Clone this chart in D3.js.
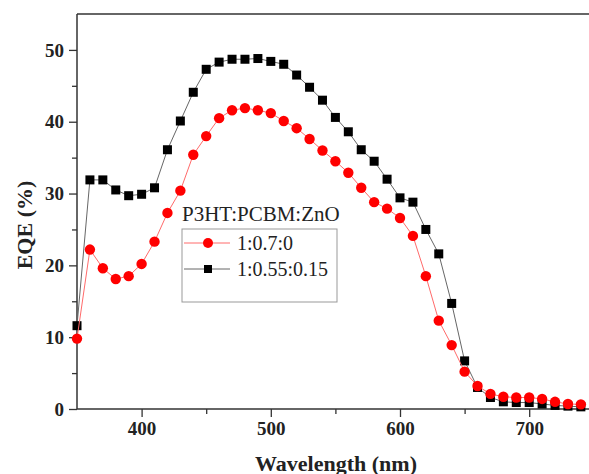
<!DOCTYPE html>
<html>
<head>
<meta charset="utf-8">
<script src="https://cdn.jsdelivr.net/npm/d3@7"></script>
<style>
  body { margin: 0; background: #fff; }
  svg { display: block; }
  .tick text { font-family: "Liberation Serif", "Times New Roman", serif; font-weight: bold; font-size: 19px; fill: #222; }
</style>
</head>
<body>
<svg id="chart" width="589" height="474"></svg>
<script>
var wavelength = [350, 360, 370, 380, 390, 400, 410, 420, 430, 440, 450, 460, 470, 480, 490,
    500, 510, 520, 530, 540, 550, 560, 570, 580, 590, 600, 610, 620, 630, 640,
    650, 660, 670, 680, 690, 700, 710, 720, 730, 740]

// 1:0.7:0 (red circles)
var eqe_ref = [9.8, 22.2, 19.6, 18.1, 18.5, 20.2, 23.3, 27.3, 30.4, 35.4, 38.0, 40.5, 41.6, 41.9, 41.6,
    41.2, 40.1, 39.1, 37.6, 36.0, 34.5, 32.9, 30.8, 28.8, 27.9, 26.6, 24.1, 18.5, 12.3, 8.9,
    5.2, 3.2, 2.1, 1.7, 1.6, 1.6, 1.4, 1.0, 0.7, 0.65]

// 1:0.55:0.15 (black squares)
var eqe_zno = [11.6, 31.9, 31.9, 30.5, 29.7, 29.9, 30.8, 36.1, 40.1, 44.1, 47.3, 48.3, 48.7, 48.7, 48.8,
    48.4, 48.0, 46.5, 44.8, 43.0, 40.6, 38.6, 36.1, 34.5, 32.0, 29.4, 28.8, 25.0, 21.6, 14.7,
    6.7, 3.0, 1.6, 1.0, 0.9, 0.9, 0.7, 0.5, 0.4, 0.3]

var xTicks = [400, 500, 600, 700]
var yTicks = [0, 10, 20, 30, 40, 50]
var legendTitle = "P3HT:PCBM:ZnO"
var seriesNames = ["1:0.7:0", "1:0.55:0.15"]

var svg = d3.select("#chart")
var mLeft = 77, mTop = 14, mBottom = 409

var x = d3.scaleLinear().domain([350, 750]).range([mLeft, mLeft + 400 * 1.292])
var y = d3.scaleLinear().domain([0, 55]).range([mBottom, mTop])

var serif = '"Liberation Serif", "Times New Roman", serif'
var axisColor = "#333"

// frame: top line
svg.append("line")
    .attr("x1", mLeft).attr("x2", 589)
    .attr("y1", mTop).attr("y2", mTop)
    .attr("stroke", axisColor).attr("stroke-width", 1.5)

// minor ticks
svg.append("g")
    .attr("transform", "translate(0," + mBottom + ")")
    .call(d3.axisBottom(x).tickValues([450, 550, 650, 750]).tickSize(5).tickFormat(""))
    .call(g => g.select(".domain").remove())
    .selectAll("line").attr("stroke", axisColor).attr("stroke-width", 1.3)
svg.append("g")
    .attr("transform", "translate(" + mLeft + ",0)")
    .call(d3.axisLeft(y).tickValues([5, 15, 25, 35, 45]).tickSize(5).tickFormat(""))
    .call(g => g.select(".domain").remove())
    .selectAll("line").attr("stroke", axisColor).attr("stroke-width", 1.3)

// major axes
var xAxis = svg.append("g")
    .attr("transform", "translate(0," + mBottom + ")")
    .call(d3.axisBottom(x).tickValues(xTicks).tickSize(8).tickPadding(5).tickSizeOuter(0))
xAxis.select(".domain").attr("stroke", axisColor).attr("stroke-width", 1.5)
    .attr("d", "M" + mLeft + ",0H589")
xAxis.selectAll("line").attr("stroke", axisColor).attr("stroke-width", 1.3)

var yAxis = svg.append("g")
    .attr("transform", "translate(" + mLeft + ",0)")
    .call(d3.axisLeft(y).tickValues(yTicks).tickSize(8).tickPadding(5).tickSizeOuter(0))
yAxis.select(".domain").attr("stroke", axisColor).attr("stroke-width", 1.5)
    .attr("d", "M0," + mTop + "V" + mBottom)
yAxis.selectAll("line").attr("stroke", axisColor).attr("stroke-width", 1.3)

// axis titles
svg.append("text")
    .attr("x", 336).attr("y", 471)
    .attr("text-anchor", "middle")
    .style("font-family", serif).style("font-weight", "bold").style("font-size", "22px")
    .attr("fill", "#222")
    .text("Wavelength (nm)")
svg.append("text")
    .attr("transform", "translate(32,225) rotate(-90)")
    .attr("text-anchor", "middle")
    .style("font-family", serif).style("font-weight", "bold").style("font-size", "22px")
    .attr("fill", "#222")
    .text("EQE (%)")

var line = d3.line()
    .x(function(d, i) { return x(wavelength[i]) })
    .y(function(d) { return y(d) })

// black series first
svg.append("path")
    .datum(eqe_zno)
    .attr("d", line)
    .attr("fill", "none").attr("stroke", "#666").attr("stroke-width", 1)
svg.append("g").selectAll("rect")
    .data(eqe_zno)
    .enter().append("rect")
    .attr("x", function(d, i) { return x(wavelength[i]) - 4.5 })
    .attr("y", function(d) { return y(d) - 4.5 })
    .attr("width", 9).attr("height", 9)
    .attr("fill", "#000")

// red series on top
svg.append("path")
    .datum(eqe_ref)
    .attr("d", line)
    .attr("fill", "none").attr("stroke", "#ff6a6a").attr("stroke-width", 1)
svg.append("g").selectAll("circle")
    .data(eqe_ref)
    .enter().append("circle")
    .attr("cx", function(d, i) { return x(wavelength[i]) })
    .attr("cy", function(d) { return y(d) })
    .attr("r", 5.2)
    .attr("fill", "#ff0000")

// legend
svg.append("text")
    .attr("x", 182).attr("y", 221)
    .style("font-family", serif).style("font-size", "21px")
    .attr("fill", "#222")
    .text(legendTitle)

var lg = svg.append("g")
lg.append("rect")
    .attr("x", 182).attr("y", 229).attr("width", 155).attr("height", 73)
    .attr("fill", "#fff").attr("stroke", "#999").attr("stroke-width", 1)

var rows = [
    {name: seriesNames[0], color: "#ff6a6a", y: 243, shape: "circle"},
    {name: seriesNames[1], color: "#666", y: 269, shape: "square"}
]
rows.forEach(function(r) {
    lg.append("line")
        .attr("x1", 184).attr("x2", 230)
        .attr("y1", r.y).attr("y2", r.y)
        .attr("stroke", r.color).attr("stroke-width", 1)
    if (r.shape === "circle") {
        lg.append("circle").attr("cx", 208).attr("cy", r.y).attr("r", 5).attr("fill", "#ff0000")
    } else {
        lg.append("rect").attr("x", 204).attr("y", r.y - 4).attr("width", 8).attr("height", 8).attr("fill", "#000")
    }
    lg.append("text")
        .attr("x", 237).attr("y", r.y + 7)
        .style("font-family", serif).style("font-size", "20px")
        .attr("fill", "#222")
        .text(r.name)
})
</script>
</body>
</html>
